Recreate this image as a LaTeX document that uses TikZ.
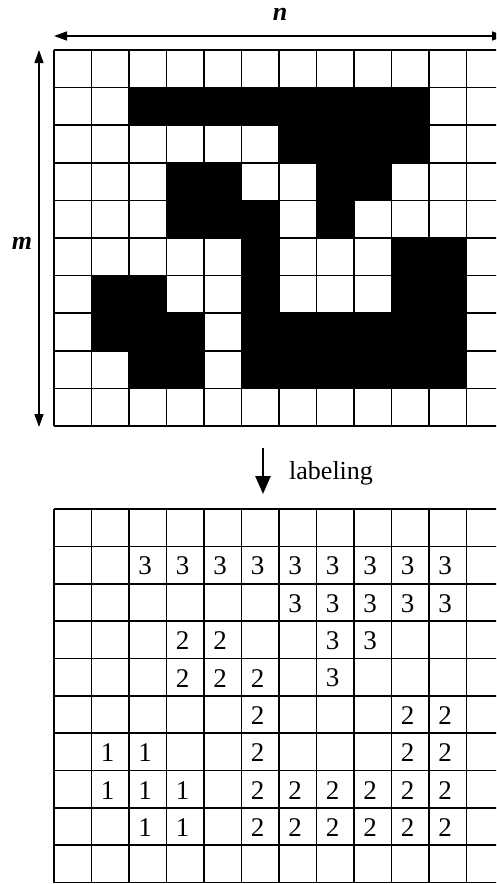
\documentclass[tikz,border=0pt]{standalone}
\usepackage{fontspec}
\setmainfont{Liberation Serif}
\usetikzlibrary{arrows.meta}
\begin{document}
\begin{tikzpicture}[x=1pt,y=-1pt,
  gridline/.style={line width=1.6pt},
  blackcell/.style={fill=black},
  num/.style={font=\fontsize{27}{30}\selectfont, inner sep=0pt},
  dimlabel/.style={font=\fontsize{26}{30}\selectfont\bfseries\itshape, inner sep=0pt},
  dimarrow/.style={line width=1.4pt, {Triangle[length=13pt,width=9pt]}-{Triangle[length=13pt,width=9pt]}},
  flowarrow/.style={line width=2.6pt, -{Triangle[length=18pt,width=15pt]}}]
\useasboundingbox (0,0) rectangle (496,884);
\clip (0,0) rectangle (496,884);
% ---- top grid: black cells
\foreach \r/\cs in {1/{2,3,4,5,6,7,8,9},2/{6,7,8,9},3/{3,4,7,8},4/{3,4,5,7},5/{5,9,10},6/{1,2,5,9,10},7/{1,2,3,5,6,7,8,9,10},8/{2,3,5,6,7,8,9,10}}{
  \foreach \c in \cs {
    \fill[blackcell] ({54+37.5*\c},{50+37.6*\r}) rectangle ++(37.5,37.6);
  }
}
% ---- top grid lines
\foreach \i in {0,...,12} \draw[gridline] ({54+37.5*\i},50) -- ({54+37.5*\i},426);
\foreach \j in {0,...,10} \draw[gridline] (54,{50+37.6*\j}) -- (504,{50+37.6*\j});
% ---- dimension arrows
\coordinate (n1) at (54,36);
\coordinate (n2) at (505,36);
\draw[dimarrow] (n1) -- (n2);
\node[dimlabel] (nlab) at (280,14) {n};
\coordinate (m1) at (39,50);
\coordinate (m2) at (39,427);
\draw[dimarrow] (m1) -- (m2);
\node[dimlabel] (mlab) at (22,243) {m};
% ---- labeling arrow
\coordinate (la1) at (263,448);
\coordinate (la2) at (263,494);
\draw[flowarrow] (la1) -- (la2);
\node[num, font=\fontsize{26}{30}\selectfont, anchor=base west] (labtext) at (289,479) {labeling};
% ---- bottom grid lines
\foreach \i in {0,...,12} \draw[gridline] ({54+37.5*\i},509) -- ({54+37.5*\i},882.5);
\foreach \j in {0,...,10} \draw[gridline] (54,{509+37.35*\j}) -- (504,{509+37.35*\j});
% ---- labels
\foreach \r/\v/\cs in {1/3/{2,3,4,5,6,7,8,9,10},2/3/{6,7,8,9,10},3/2/{3,4},3/3/{7,8},4/2/{3,4,5},4/3/{7},5/2/{5,9,10},6/1/{1,2},6/2/{5,9,10},7/1/{1,2,3},7/2/{5,6,7,8,9,10},8/1/{2,3},8/2/{5,6,7,8,9,10}}{
  \foreach \c in \cs {
    \node[num] (L-\r-\c) at ({54+37.5*\c+16},{509+37.35*(\r+0.5)+1}) {\v};
  }
}
\end{tikzpicture}
\end{document}
